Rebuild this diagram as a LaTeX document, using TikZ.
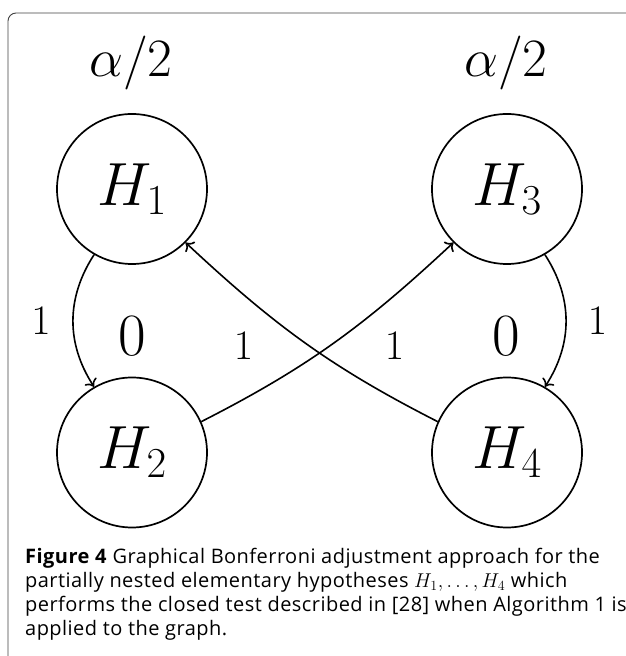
\RequirePackage{fix-cm}
\documentclass[tikz,border=0pt]{standalone}
\usepackage{fontspec}
\newfontfamily\capfont{Open Sans}[LetterSpace=2.3]
\usetikzlibrary{arrows.meta}
\begin{document}
\begin{tikzpicture}[x=1pt,y=1pt,
  hyp/.style={circle, draw, line width=1.7pt, minimum size=150pt, inner sep=0pt, font=\fontsize{61}{61}\selectfont},
  edge/.style={-{To[length=7pt,width=14pt]}, line width=1.6pt},
  nodew/.style={inner sep=0pt, anchor=base, font=\fontsize{54}{54}\selectfont},
  zerow/.style={inner sep=0pt, anchor=base, font=\fontsize{60}{60}\selectfont},
  edgew/.style={inner sep=0pt, anchor=base, font=\fontsize{42}{42}\selectfont},
  captxt/.style={inner sep=0pt, anchor=base west, font=\capfont\fontsize{20}{24}\selectfont},
  framel/.style={line width=0.9pt, draw=black!75}]
\useasboundingbox (0,0) rectangle (626,656);
\draw[framel] (8,0) -- (8,635) arc[start angle=180,end angle=90,radius=8] -- (627,643);
\node[hyp] (H1) at (132,467) {$H_1$};
\node[hyp] (H2) at (132,203.5) {$H_2$};
\node[hyp] (H3) at (507,467) {$H_3$};
\node[hyp] (H4) at (507,203.5) {$H_4$};
\node[nodew] (w1) at (131,579) {$\alpha/2$};
\node[nodew] (w3) at (506,579) {$\alpha/2$};
\node[zerow] (w2) at (132.5,300) {$0$};
\node[zerow] (w4) at (506,300) {$0$};
\draw[edge] (H1.240) to[out=237,in=123] (H2.120);
\draw[edge] (H3.300) to[out=303,in=57] (H4.60);
\draw[edge] (H2.24) to[out=27,in=223] (H3.225);
\draw[edge] (H4.156) to[out=153,in=317] (H1.315);
\node[edgew] (e12) at (41,321) {$1$};
\node[edgew] (e34) at (597.5,321) {$1$};
\node[edgew] (e23) at (243.5,296) {$1$};
\node[edgew] (e41) at (394.5,296) {$1$};
\node[captxt] (c1) at (25,92) {\textbf{Figure 4} Graphical Bonferroni adjustment approach for the};
\node[captxt] (c2) at (25,68) {partially nested elementary hypotheses $H_1,\ldots,H_4$ which};
\node[captxt] (c3) at (25,44) {performs the closed test described in [28] when Algorithm 1 is};
\node[captxt] (c4) at (25,20) {applied to the graph.};
\end{tikzpicture}
\end{document}
